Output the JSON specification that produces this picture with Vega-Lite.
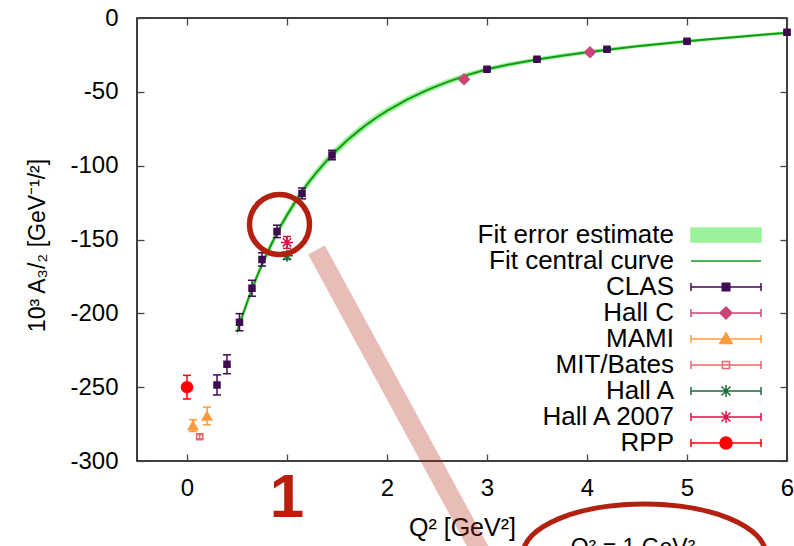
{
  "$schema": "https://vega.github.io/schema/vega-lite/v6.json",
  "width": 650,
  "height": 443,
  "autosize": {"type": "none"},
  "padding": {"left": 137, "top": 18, "right": 7, "bottom": 85},
  "background": "white",
  "config": {
    "view": {"stroke": "#000", "strokeWidth": 1.5},
    "font": "Liberation Sans",
    "axis": {
      "labelFont": "Liberation Sans", "titleFont": "Liberation Sans",
      "labelFontSize": 24, "titleFontSize": 25, "labelColor": "#000", "titleColor": "#000",
      "titleFontWeight": "normal", "grid": false, "domain": false,
      "tickColor": "#444", "tickWidth": 1.3, "tickSize": -7,
      "labelFlush": false, "labelOverlap": false
    }
  },
  "datasets": {
    "curve": [
      {"x": 0.5, "y": -212.5, "lo": -215.5, "hi": -209.5},
      {"x": 0.55, "y": -202.5, "lo": -205.5, "hi": -199.5},
      {"x": 0.6, "y": -192.8, "lo": -195.8, "hi": -189.8},
      {"x": 0.65, "y": -183.6, "lo": -186.6, "hi": -180.6},
      {"x": 0.7, "y": -175, "lo": -178, "hi": -172},
      {"x": 0.75, "y": -167, "lo": -170, "hi": -164},
      {"x": 0.8, "y": -159.5, "lo": -162.5, "hi": -156.5},
      {"x": 0.85, "y": -152.4, "lo": -155.4, "hi": -149.4},
      {"x": 0.9, "y": -145.7, "lo": -148.7, "hi": -142.7},
      {"x": 0.95, "y": -139.4, "lo": -142.4, "hi": -136.4},
      {"x": 1.0, "y": -133.5, "lo": -136.5, "hi": -130.5},
      {"x": 1.1, "y": -122.6, "lo": -125.6, "hi": -119.6},
      {"x": 1.2, "y": -112.9, "lo": -115.9, "hi": -109.9},
      {"x": 1.3, "y": -104.2, "lo": -107.2, "hi": -101.2},
      {"x": 1.4, "y": -96.4, "lo": -99.4, "hi": -93.4},
      {"x": 1.5, "y": -89.4, "lo": -92.3, "hi": -86.5},
      {"x": 1.6, "y": -83.0, "lo": -85.8, "hi": -80.2},
      {"x": 1.7, "y": -77.3, "lo": -80, "hi": -74.6},
      {"x": 1.8, "y": -72.0, "lo": -74.6, "hi": -69.4},
      {"x": 1.9, "y": -67.2, "lo": -69.7, "hi": -64.7},
      {"x": 2.0, "y": -62.9, "lo": -65.3, "hi": -60.5},
      {"x": 2.2, "y": -55.3, "lo": -57.5, "hi": -53.1},
      {"x": 2.4, "y": -48.8, "lo": -50.9, "hi": -46.7},
      {"x": 2.6, "y": -43.4, "lo": -45.4, "hi": -41.4},
      {"x": 2.8, "y": -38.7, "lo": -40.5, "hi": -36.9},
      {"x": 3.0, "y": -34.7, "lo": -36.3, "hi": -33.1},
      {"x": 3.25, "y": -31.1, "lo": -32.6, "hi": -29.6},
      {"x": 3.5, "y": -28.1, "lo": -29.5, "hi": -26.7},
      {"x": 3.75, "y": -25.5, "lo": -26.9, "hi": -24.1},
      {"x": 4.0, "y": -23.2, "lo": -24.5, "hi": -21.9},
      {"x": 4.25, "y": -21.1, "lo": -22.4, "hi": -19.8},
      {"x": 4.5, "y": -19.2, "lo": -20.4, "hi": -18},
      {"x": 4.75, "y": -17.4, "lo": -18.6, "hi": -16.2},
      {"x": 5.0, "y": -15.8, "lo": -17, "hi": -14.6},
      {"x": 5.25, "y": -14.3, "lo": -15.4, "hi": -13.2},
      {"x": 5.5, "y": -12.8, "lo": -13.9, "hi": -11.7},
      {"x": 5.75, "y": -11.4, "lo": -12.5, "hi": -10.3},
      {"x": 6.0, "y": -10.0, "lo": -11.1, "hi": -8.9}
    ],
    "points": [
      {"series": "CLAS", "x": 0.3, "y": -248.5, "lo": -255.3, "hi": -241.7},
      {"series": "CLAS", "x": 0.4, "y": -234.5, "lo": -240.9, "hi": -228.1},
      {"series": "CLAS", "x": 0.525, "y": -206, "lo": -211.8, "hi": -200.2},
      {"series": "CLAS", "x": 0.65, "y": -183, "lo": -188.4, "hi": -177.6},
      {"series": "CLAS", "x": 0.75, "y": -163.5, "lo": -168, "hi": -159},
      {"series": "CLAS", "x": 0.9, "y": -144.5, "lo": -148.7, "hi": -140.3},
      {"series": "CLAS", "x": 1.15, "y": -118.8, "lo": -122.5, "hi": -115.1},
      {"series": "CLAS", "x": 1.45, "y": -92.8, "lo": -96, "hi": -89.6},
      {"series": "CLAS", "x": 3.0, "y": -34.7, "lo": -35.7, "hi": -33.7},
      {"series": "CLAS", "x": 3.5, "y": -28.0, "lo": -29, "hi": -27},
      {"series": "CLAS", "x": 4.2, "y": -21.2, "lo": -22.2, "hi": -20.2},
      {"series": "CLAS", "x": 5.0, "y": -15.8, "lo": -16.8, "hi": -14.8},
      {"series": "CLAS", "x": 6.0, "y": -9.7, "lo": -10.7, "hi": -8.7},
      {"series": "Hall C", "x": 2.77, "y": -41.5, "lo": -43, "hi": -40},
      {"series": "Hall C", "x": 4.03, "y": -23.2, "lo": -24.7, "hi": -21.7},
      {"series": "MAMI", "x": 0.06, "y": -276, "lo": -280, "hi": -272},
      {"series": "MAMI", "x": 0.2, "y": -269.5, "lo": -275.5, "hi": -263.5},
      {"series": "MIT/Bates", "x": 0.127, "y": -283.5, "lo": -285, "hi": -282},
      {"series": "Hall A", "x": 1.0, "y": -161, "lo": -163.5, "hi": -158.5},
      {"series": "Hall A 2007", "x": 1.0, "y": -152, "lo": -156, "hi": -148},
      {"series": "RPP", "x": 0.0, "y": -250, "lo": -258, "hi": -242}
    ],
    "entries": [
      {"series": "Fit error estimate"}, {"series": "Fit central curve"}, {"series": "CLAS"},
      {"series": "Hall C"}, {"series": "MAMI"}, {"series": "MIT/Bates"},
      {"series": "Hall A"}, {"series": "Hall A 2007"}, {"series": "RPP"}
    ],
    "pointer": [{"x": 1.295, "y": -157.1}, {"x": 3.089, "y": -380.5}],
    "ring": [{"x": 0.925, "y": -139.8}],
    "oval": [{"x": 4.574, "y": -363.6}],
    "bigone": [{"x": 1.0, "y": -337.6, "label": "1"}],
    "ovaltext": [{"x": 4.46, "y": -363.9, "label": "Q² = 1 GeV²"}]
  },
  "resolve": {"axis": {"x": "independent", "y": "independent"}},
  "layer": [
    {
      "data": {"name": "curve"},
      "mark": {"type": "area", "color": "#9cf29c", "opacity": 1},
      "encoding": {
        "x": {"field": "x", "type": "quantitative",
              "scale": {"domain": [-0.5, 6], "nice": false, "zero": false},
              "axis": {"orient": "bottom", "values": [0, 1, 2, 3, 4, 5, 6], "labelPadding": 41,
                       "labelBaseline": "alphabetic", "title": "Q² [GeV²]",
                       "labelExpr": "datum.value === 1 ? '' : '' + datum.value",
                       "titleBaseline": "alphabetic", "titleY": 74}},
        "y": {"field": "lo", "type": "quantitative",
              "scale": {"domain": [-300, 0], "nice": false, "zero": false},
              "axis": {"orient": "left", "values": [-300, -250, -200, -150, -100, -50, 0],
                       "labelPadding": 26, "title": "10³ A₃/₂ [GeV⁻¹/²]",
                       "labelExpr": "'' + datum.value", "titleFontSize": 23,
                       "titleBaseline": "alphabetic", "titleX": -93, "titleY": 227}},
        "y2": {"field": "hi"}
      }
    },
    {
      "data": {"name": "curve"},
      "mark": {"type": "line", "color": "#139a13", "strokeWidth": 2},
      "encoding": {
        "x": {"field": "x", "type": "quantitative",
              "axis": {"orient": "top", "values": [0, 1, 2, 3, 4, 5, 6], "labels": false, "title": null}},
        "y": {"field": "y", "type": "quantitative",
              "axis": {"orient": "right", "values": [-300, -250, -200, -150, -100, -50, 0], "labels": false, "title": null}}
      }
    },
    {
      "data": {"name": "points"},
      "mark": {"type": "rule", "strokeWidth": 1.5},
      "encoding": {
        "x": {"field": "x", "type": "quantitative", "axis": null},
        "y": {"field": "lo", "type": "quantitative", "axis": null},
        "y2": {"field": "hi"},
        "color": {"field": "series", "type": "nominal", "legend": null,
                  "scale": {"domain": ["RPP", "Hall A 2007", "Hall A", "MIT/Bates", "MAMI", "Hall C", "CLAS", "Fit central curve", "Fit error estimate"],
                            "range": ["#ff0000", "#dd1144", "#1b6b38", "#e8656f", "#ff9a3c", "#cc4477", "#3f0a52", "#139a13", "#9cf29c"]}}
      }
    },
    {
      "data": {"name": "points"},
      "mark": {"type": "tick", "orient": "horizontal", "size": 8, "thickness": 1.5, "opacity": 1},
      "encoding": {
        "x": {"field": "x", "type": "quantitative", "axis": null},
        "y": {"field": "lo", "type": "quantitative", "axis": null},
        "color": {"field": "series", "type": "nominal", "legend": null}
      }
    },
    {
      "data": {"name": "points"},
      "mark": {"type": "tick", "orient": "horizontal", "size": 8, "thickness": 1.5, "opacity": 1},
      "encoding": {
        "x": {"field": "x", "type": "quantitative", "axis": null},
        "y": {"field": "hi", "type": "quantitative", "axis": null},
        "color": {"field": "series", "type": "nominal", "legend": null}
      }
    },
    {
      "data": {"name": "points"},
      "mark": {"type": "point", "filled": true, "opacity": 1, "strokeWidth": 1.5},
      "encoding": {
        "x": {"field": "x", "type": "quantitative", "axis": null},
        "y": {"field": "y", "type": "quantitative", "axis": null},
        "color": {"field": "series", "type": "nominal", "legend": null},
        "stroke": {"field": "series", "type": "nominal", "legend": null,
                   "scale": {"domain": ["RPP", "Hall A 2007", "Hall A", "MIT/Bates", "MAMI", "Hall C", "CLAS", "Fit central curve", "Fit error estimate"],
                             "range": ["#ff0000", "#dd1144", "#1b6b38", "#e8656f", "#ff9a3c", "#cc4477", "#3f0a52", "#139a13", "#9cf29c"]}},
        "fillOpacity": {"condition": {"test": "datum.series === 'MIT/Bates'", "value": 0}, "value": 1},
        "shape": {"condition": [
            {"test": "datum.series === 'CLAS' || datum.series === 'MIT/Bates'", "value": "square"},
            {"test": "datum.series === 'Hall C'", "value": "diamond"},
            {"test": "datum.series === 'MAMI'", "value": "triangle-up"},
            {"test": "datum.series === 'RPP'", "value": "circle"}],
          "value": "M-1,0H1M0,-1V1M-0.7,-0.7L0.7,0.7M-0.7,0.7L0.7,-0.7"},
        "size": {"condition": [
            {"test": "datum.series === 'CLAS' || datum.series === 'MIT/Bates'", "value": 36},
            {"test": "datum.series === 'Hall C'", "value": 110},
            {"test": "datum.series === 'MAMI'", "value": 90},
            {"test": "datum.series === 'RPP'", "value": 121}],
          "value": 144}
      }
    },
    {
      "data": {"name": "entries"},
      "mark": {"type": "point", "filled": false, "strokeWidth": 0, "size": 1, "opacity": 1},
      "encoding": {
        "shape": {"field": "series", "type": "nominal",
          "scale": {"domain": ["Fit error estimate", "Fit central curve", "CLAS", "Hall C", "MAMI", "MIT/Bates", "Hall A", "Hall A 2007", "RPP"],
                    "range": [
                      "M-7,-1.4H7V1.4H-7Z",
                      "M-7,0H7",
                      "M-7,0H7M-7,-0.8V0.8M7,-0.8V0.8M-0.75,-0.75H0.75V0.75H-0.75Z",
                      "M-7,0H7M-7,-0.8V0.8M7,-0.8V0.8M0,-1.2L1.2,0L0,1.2L-1.2,0Z",
                      "M-7,0H7M-7,-0.8V0.8M7,-0.8V0.8M0,-1.2L1.25,0.9L-1.25,0.9Z",
                      "M-7,0H7M-7,-0.8V0.8M7,-0.8V0.8M-0.7,-0.7H0.7V0.7H-0.7Z",
                      "M-7,0H7M-7,-0.8V0.8M7,-0.8V0.8M0,-1.2V1.2M-0.9,-0.9L0.9,0.9M-0.9,0.9L0.9,-0.9",
                      "M-7,0H7M-7,-0.8V0.8M7,-0.8V0.8M0,-1.2V1.2M-0.9,-0.9L0.9,0.9M-0.9,0.9L0.9,-0.9",
                      "M-7,0H7M-7,-0.8V0.8M7,-0.8V0.8M1.2,0A1.2,1.2 0 1,1 -1.2,0A1.2,1.2 0 1,1 1.2,0Z"]},
          "legend": {
            "orient": "none", "legendX": 576, "legendY": 204, "direction": "vertical",
            "title": null,
            "labelFont": "Liberation Sans", "labelFontSize": 26, "labelColor": "#000",
            "labelAlign": "right", "labelOffset": -65, "labelLimit": 400,
            "symbolSize": 100, "symbolOffset": 0, "symbolStrokeWidth": 1.5, "symbolOpacity": 1,
            "rowPadding": -1.0,
            "encoding": {"symbols": {
              "fill": {"condition": [
                {"test": "datum.value === 'Fit error estimate'", "value": "#9cf29c"},
                {"test": "datum.value === 'CLAS'", "value": "#3f0a52"},
                {"test": "datum.value === 'Hall C'", "value": "#cc4477"},
                {"test": "datum.value === 'MAMI'", "value": "#ff9a3c"},
                {"test": "datum.value === 'RPP'", "value": "#ff0000"}], "value": "transparent"},
              "stroke": {"condition": [
                {"test": "datum.value === 'Fit error estimate'", "value": "#9cf29c"},
                {"test": "datum.value === 'Fit central curve'", "value": "#139a13"},
                {"test": "datum.value === 'CLAS'", "value": "#3f0a52"},
                {"test": "datum.value === 'Hall C'", "value": "#cc4477"},
                {"test": "datum.value === 'MAMI'", "value": "#ff9a3c"},
                {"test": "datum.value === 'MIT/Bates'", "value": "#e8656f"},
                {"test": "datum.value === 'Hall A'", "value": "#1b6b38"},
                {"test": "datum.value === 'Hall A 2007'", "value": "#dd1144"}], "value": "#ff0000"},
              "opacity": {"value": 1},
              "size": {"value": 100},
              "strokeWidth": {"value": 1.5}}}
          }}
      }
    },
    {
      "data": {"name": "pointer"},
      "mark": {"type": "line", "color": "#b22010", "opacity": 0.3, "strokeWidth": 19, "strokeCap": "butt"},
      "encoding": {
        "x": {"field": "x", "type": "quantitative", "axis": null},
        "y": {"field": "y", "type": "quantitative", "axis": null}
      }
    },
    {
      "data": {"name": "ring"},
      "mark": {"type": "point", "shape": "circle", "size": 3600, "filled": false, "color": "#b3200f", "strokeWidth": 5.5, "opacity": 1},
      "encoding": {
        "x": {"field": "x", "type": "quantitative", "axis": null},
        "y": {"field": "y", "type": "quantitative", "axis": null}
      }
    },
    {
      "data": {"name": "oval"},
      "mark": {"type": "point", "shape": "M-1,0A1,0.42 0 1,1 1,0A1,0.42 0 1,1 -1,0Z", "size": 59049, "filled": false, "color": "#b3200f", "strokeWidth": 5, "opacity": 1},
      "encoding": {
        "x": {"field": "x", "type": "quantitative", "axis": null},
        "y": {"field": "y", "type": "quantitative", "axis": null}
      }
    },
    {
      "data": {"name": "bigone"},
      "mark": {"type": "text", "font": "Liberation Sans", "fontSize": 62, "fontWeight": "bold", "color": "#b8200c", "baseline": "alphabetic", "align": "center"},
      "encoding": {
        "x": {"field": "x", "type": "quantitative", "axis": null},
        "y": {"field": "y", "type": "quantitative", "axis": null},
        "text": {"field": "label"}
      }
    },
    {
      "data": {"name": "ovaltext"},
      "mark": {"type": "text", "font": "Liberation Sans", "fontSize": 23, "color": "#000", "baseline": "alphabetic", "align": "center"},
      "encoding": {
        "x": {"field": "x", "type": "quantitative", "axis": null},
        "y": {"field": "y", "type": "quantitative", "axis": null},
        "text": {"field": "label"}
      }
    }
  ]
}
